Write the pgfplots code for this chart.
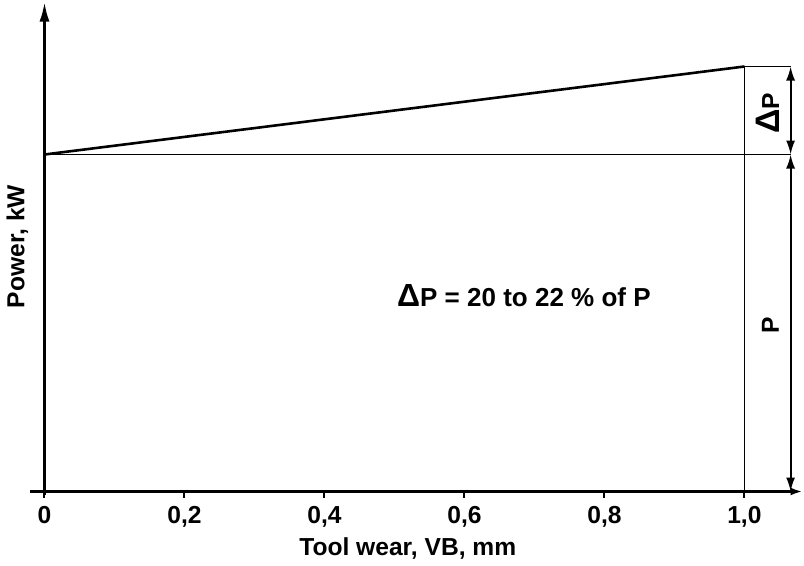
\documentclass[border=0pt]{standalone}
\usepackage{pgfplots}
\pgfplotsset{compat=1.18}
\usepackage{fontspec}
\setmainfont{Liberation Sans}
\usetikzlibrary{arrows.meta}
\newcommand{\lf}{\bfseries\fontsize{12.3}{14}\selectfont}
\begin{document}
\begin{tikzpicture}
\begin{axis}[
  scale only axis,
  width=386pt, height=246.5pt,
  xmin=-0.02, xmax=1.083, ymin=-3, ymax=490,
  axis lines=middle,
  clip=false,
  hide obscured x ticks=false,
  x axis line style={line width=1.5pt, -{Latex[length=6pt,width=4pt]}},
  y axis line style={line width=1.5pt, -{Latex[length=10pt,width=5pt]}},
  xtick={0,0.2,0.4,0.6,0.8,1.0}, ytick=\empty,
  xticklabels={0,{0,2},{0,4},{0,6},{0,8},{1,0}},
  tick align=outside, major tick length=3pt,
  tick style={line width=1pt, black},
  xticklabel style={font=\lf, yshift=-1pt},
  xlabel={\lf Tool wear, VB, mm},
  ylabel={\lf Power, kW},
  xlabel style={at={(axis cs:0.519,-3)}, anchor=north, yshift=-18pt},
  ylabel style={at={(axis cs:-0.0386,245)}, anchor=center, rotate=90},
]
\addplot[line width=1.3pt, black] coordinates {(0,337) (1.0,425)};
\addplot[line width=0.9pt, black] coordinates {(0,337) (1.066,337)};
\addplot[line width=0.9pt, black] coordinates {(1.0,0) (1.0,425)};
\addplot[line width=0.9pt, black] coordinates {(1.0,425) (1.066,425)};
\draw[line width=0.9pt, {Latex[length=7pt,width=4.5pt]}-{Latex[length=7pt,width=4.5pt]}] (axis cs:1.066,425) -- (axis cs:1.066,337);
\draw[line width=0.9pt, {Latex[length=7pt,width=4.5pt]}-{Latex[length=7pt,width=4.5pt]}] (axis cs:1.066,337) -- (axis cs:1.066,0);
\node[rotate=90] at (axis cs:1.033,378) {\lf{\fontsize{17}{17}\selectfont Δ}P};
\node[rotate=90] at (axis cs:1.037,166) {\lf P};
\node at (axis cs:0.685,196) {\bfseries\fontsize{13}{15}\selectfont{\fontsize{16}{16}\selectfont Δ}P = 20 to 22 \% of P};
\end{axis}
\end{tikzpicture}
\end{document}
